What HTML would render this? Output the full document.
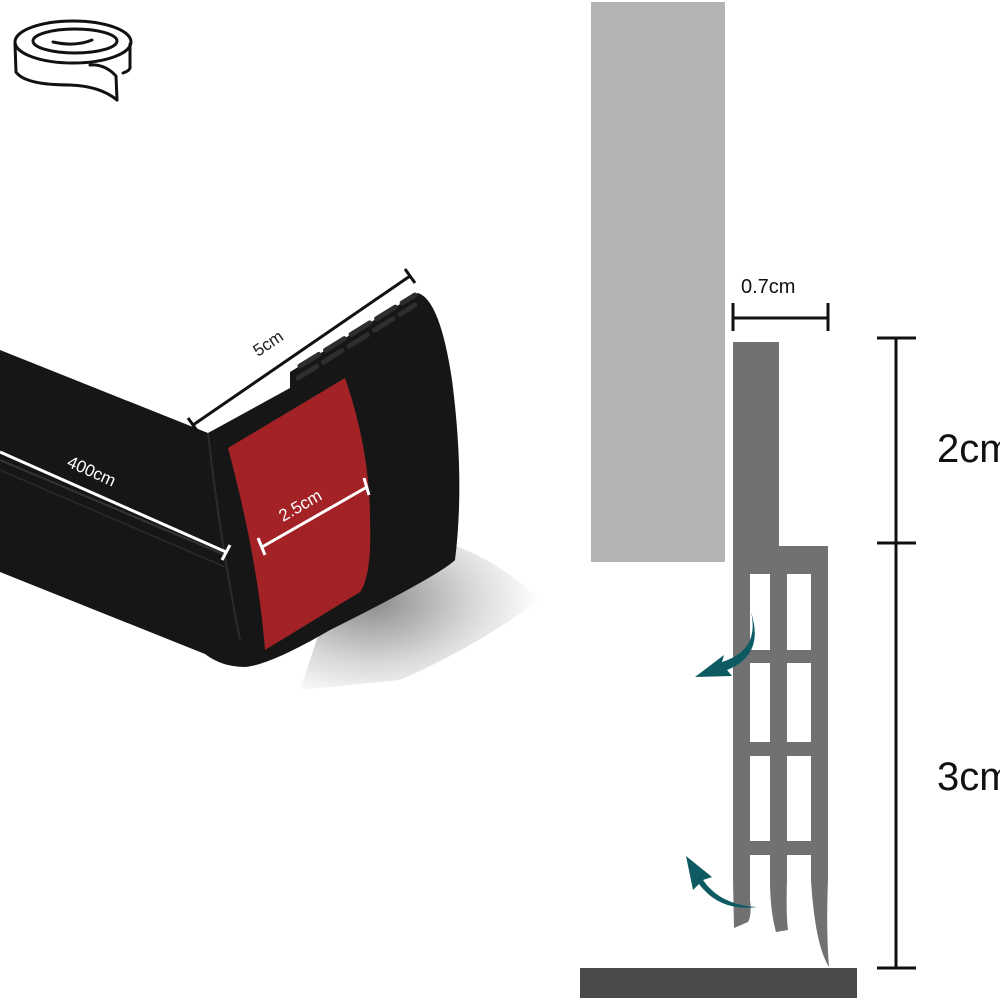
<!DOCTYPE html>
<html><head><meta charset="utf-8"><style>
html,body{margin:0;padding:0;background:#fff;}
svg{display:block;}
text{font-family:"Liberation Sans","DejaVu Sans",sans-serif;}
</style></head><body>
<svg width="1000" height="1000" viewBox="0 0 1000 1000" xmlns="http://www.w3.org/2000/svg">
<defs>
<radialGradient id="sh2" cx="0.3" cy="0.4" r="0.7">
<stop offset="0" stop-color="#8a8a8a"/><stop offset="0.6" stop-color="#d8d8d8"/><stop offset="1" stop-color="#fff"/>
</radialGradient>
</defs>
<!-- roll icon -->
<g fill="none" stroke="#111" stroke-width="3" stroke-linecap="round">
<ellipse cx="73" cy="42" rx="58" ry="21"/>
<ellipse cx="75" cy="41" rx="42" ry="12"/>
<path d="M53,42 Q75,47 92,40"/>
<path d="M15,44 L16,72 Q25,85 70,85 Q100,86 117,100"/>
<path d="M117,100 L116,76 Q105,64 90,65"/>
<path d="M130,44 L130,68 Q129,71 123,73"/>
</g>
<!-- shadow -->
<path d="M330,600 L440,540 Q500,560 540,600 Q470,650 400,680 L300,690 Z" fill="url(#sh2)"/>
<!-- black strip -->
<path d="M0,350 L208,433 L290,388 L290,372 L418,293 Q440,300 452,380 Q465,480 455,560 Q440,575 330,630 Q270,665 245,667 Q222,667 205,654 L0,572 Z" fill="#161616"/>
<path d="M0,460 L225,555" stroke="#333" stroke-width="2"/>
<path d="M0,470 L225,567" stroke="#2a2a2a" stroke-width="1.5"/>
<path d="M208,433 Q220,540 240,640" stroke="#2b2b2b" stroke-width="2" fill="none"/>
<g stroke="#2e2e2e" stroke-width="5" stroke-linecap="round">
<path d="M298,378 L415,305" stroke-dasharray="22,8"/>
<path d="M300,366 L415,295" stroke-dasharray="22,8"/>
</g>
<path d="M228,448 L345,378 Q370,450 370,520 Q372,575 360,592 L265,650 Q258,560 228,448 Z" fill="#a32226"/>
<g stroke="#111" stroke-width="3">
<line x1="193" y1="425" x2="410" y2="276"/>
<line x1="188" y1="418" x2="198" y2="432"/>
<line x1="405" y1="269" x2="415" y2="283"/>
</g>
<text x="258" y="357" font-size="17" fill="#222" transform="rotate(-34 258 357)">5cm</text>
<g stroke="#fff" stroke-width="3">
<line x1="0" y1="452" x2="226" y2="552"/>
<line x1="222" y1="560" x2="230" y2="545"/>
<line x1="262" y1="547" x2="367" y2="487"/>
<line x1="258" y1="538" x2="265" y2="555"/>
<line x1="364" y1="478" x2="369" y2="495"/>
</g>
<text x="66" y="466" font-size="17" fill="#fff" transform="rotate(24 66 466)">400cm</text>
<text x="283" y="522" font-size="17" fill="#fff" transform="rotate(-30 283 522)">2.5cm</text>
<!-- right diagram -->
<rect x="591" y="2" width="134" height="560" fill="#b3b3b3"/>
<path d="M733,342 L779,342 L779,546 L828,546 L828,855 L828,880 Q826,930 829,967 Q815,945 811,880 L811,855 L787,855 L787,880 Q786,915 788,930 L776,932 Q770,910 770,880 L770,855 L750,855 L750,900 Q752,915 748,922 L734,928 L733,880 Z" fill="#717171"/>
<g fill="#fff">
<rect x="750" y="574" width="20" height="76"/>
<rect x="787" y="574" width="24" height="76"/>
<rect x="750" y="663" width="20" height="79"/>
<rect x="787" y="663" width="24" height="79"/>
<rect x="750" y="756" width="20" height="85"/>
<rect x="787" y="756" width="24" height="85"/>
</g>
<rect x="580" y="968" width="277" height="30" fill="#4a4a4a"/>
<g fill="#0e5a63">
<path d="M751,612 Q760,650 722,662 L724,655 L695,677 L732,676 L727,670 Q765,655 751,612 Z"/>
<path d="M757,907 Q720,905 703,880 L712,877 L686,856 L693,890 L699,884 Q720,912 757,907 Z"/>
</g>
<g stroke="#111" stroke-width="3">
<line x1="733" y1="318" x2="828" y2="318"/>
<line x1="733" y1="303" x2="733" y2="331"/>
<line x1="828" y1="303" x2="828" y2="331"/>
<line x1="896" y1="338" x2="896" y2="968"/>
<line x1="877" y1="338" x2="916" y2="338"/>
<line x1="877" y1="543" x2="916" y2="543"/>
<line x1="877" y1="968" x2="916" y2="968"/>
</g>
<text x="741" y="293" font-size="20" fill="#111">0.7cm</text>
<text x="937" y="462" font-size="40" fill="#111">2cm</text>
<text x="937" y="790" font-size="40" fill="#111">3cm</text>
</svg>
</body></html>
